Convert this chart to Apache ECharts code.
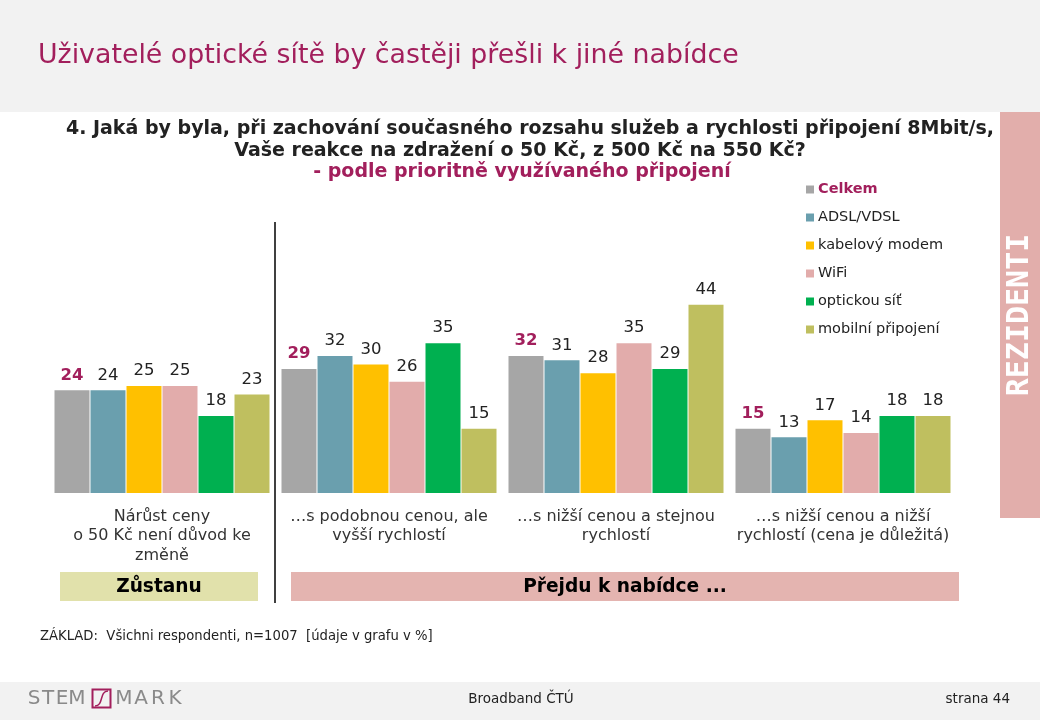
<!DOCTYPE html>
<html><head><meta charset="utf-8">
<script src="https://cdn.jsdelivr.net/npm/echarts@6/dist/echarts.min.js"></script>
<style>html,body{margin:0;padding:0;background:#fff}#c{width:1040px;height:720px}</style>
</head><body><div id="c"></div>
<script>
const categories = ['Nárůst ceny\no 50 Kč není důvod ke\nzměně', '…s podobnou cenou, ale\nvyšší rychlostí', '…s nižší cenou a stejnou\nrychlostí', '…s nižší cenou a nižší\nrychlostí (cena je důležitá)'];
const seriesNames = ['Celkem', 'ADSL/VDSL', 'kabelový modem', 'WiFi', 'optickou síť', 'mobilní připojení'];
const celkem = [24, 29, 32, 15];
const adsl = [24, 32, 31, 13];
const kabel = [25, 30, 28, 17];
const wifi = [25, 26, 35, 14];
const opticka = [18, 35, 29, 18];
const mobilni = [23, 15, 44, 18];
const colors = ['#a6a6a6', '#6a9fae', '#ffc000', '#e2acab', '#00b050', '#bfbf5f'];
const FONT = 'DejaVu Sans';
const CRIMSON = '#a21f5c';
const values = [celkem, adsl, kabel, wifi, opticka, mobilni];

const chart = echarts.init(document.getElementById('c'), null, {renderer: 'canvas'});
const series = values.map((v, i) => ({
  name: seriesNames[i], type: 'bar', data: v, barWidth: 35, barGap: '2.86%',
  itemStyle: {color: colors[i]},
  label: {show: true, position: 'top', distance: 6.5, fontFamily: FONT, fontSize: 16.5,
    color: i === 0 ? CRIMSON : '#222', fontWeight: i === 0 ? 'bold' : 'normal'}
}));

const logoLetters = [['S', 34], ['T', 48], ['E', 62], ['M', 77], ['M', 124], ['A', 141], ['R', 158], ['K', 175]];
const logo = logoLetters.map(([ch, x]) => ({type: 'text', x: x, y: 699,
  style: {text: ch, font: '20px "DejaVu Sans"', fill: '#8a8a8a', align: 'center', verticalAlign: 'middle'}}));

chart.setOption({
  animation: false,
  textStyle: {fontFamily: FONT},
  grid: {left: 48.5, top: 279, width: 908, height: 214, containLabel: false},
  xAxis: {type: 'category', data: categories, axisLine: {show: false}, axisTick: {show: false},
    axisLabel: {interval: 0, margin: 14, fontFamily: FONT, fontSize: 16, lineHeight: 19.5, color: '#333'}},
  yAxis: {type: 'value', min: 0, max: 50, show: false, splitLine: {show: false}},
  legend: {orient: 'vertical', left: 801, top: 177, itemWidth: 8, itemHeight: 8, itemGap: 13, icon: 'rect',
    textStyle: {fontFamily: FONT, fontSize: 14.5, color: '#222', padding: [0, 0, 0, -1]},
    data: seriesNames.map((n, i) => i === 0 ? {name: n, textStyle: {color: CRIMSON, fontWeight: 'bold'}} : {name: n})},
  series: series,
  graphic: [
    {type: 'rect', shape: {x: 0, y: 0, width: 1040, height: 112}, style: {fill: '#f2f2f2'}, z: -10},
    {type: 'text', x: 38, y: 56, style: {text: 'Uživatelé optické sítě by častěji přešli k jiné nabídce', font: '26.8px "DejaVu Sans"', fill: CRIMSON, verticalAlign: 'middle'}},
    {type: 'text', x: 530, y: 129, style: {text: '4. Jaká by byla, při zachování současného rozsahu služeb a rychlosti připojení 8Mbit/s,', font: 'bold 19px "DejaVu Sans"', fill: '#222', align: 'center', verticalAlign: 'middle'}},
    {type: 'text', x: 520, y: 151, style: {text: 'Vaše reakce na zdražení o 50 Kč, z 500 Kč na 550 Kč?', font: 'bold 19px "DejaVu Sans"', fill: '#222', align: 'center', verticalAlign: 'middle'}},
    {type: 'text', x: 522, y: 172, style: {text: '- podle prioritně využívaného připojení', font: 'bold 19px "DejaVu Sans"', fill: CRIMSON, align: 'center', verticalAlign: 'middle'}},
    {type: 'rect', shape: {x: 1000, y: 112, width: 40, height: 406}, style: {fill: '#e2aeab'}},
    {type: 'text', x: 1020, y: 315, rotation: Math.PI / 2, style: {text: 'REZIDENTI', font: 'bold 30px "DejaVu Sans Mono"', fill: '#fff', align: 'center', verticalAlign: 'middle'}},
    {type: 'line', shape: {x1: 275, y1: 222, x2: 275, y2: 603}, style: {stroke: '#000', lineWidth: 1.5}},
    {type: 'rect', shape: {x: 60, y: 572, width: 198, height: 29}, style: {fill: '#e1e1ab'}},
    {type: 'text', x: 159, y: 587, style: {text: 'Zůstanu', font: 'bold 18.6px "DejaVu Sans"', fill: '#000', align: 'center', verticalAlign: 'middle'}},
    {type: 'rect', shape: {x: 291, y: 572, width: 668, height: 29}, style: {fill: '#e4b4b0'}},
    {type: 'text', x: 625, y: 587, style: {text: 'Přejdu k nabídce ...', font: 'bold 18.6px "DejaVu Sans"', fill: '#000', align: 'center', verticalAlign: 'middle'}},
    {type: 'text', x: 40, y: 637, style: {text: 'ZÁKLAD:  Všichni respondenti, n=1007  [údaje v grafu v %]', font: '13.2px "DejaVu Sans"', fill: '#222', verticalAlign: 'middle'}},
    {type: 'rect', shape: {x: 0, y: 682, width: 1040, height: 38}, style: {fill: '#f2f2f2'}, z: -10},
    ...logo,
    {type: 'rect', shape: {x: 92.5, y: 689.5, width: 18, height: 18}, style: {fill: 'none', stroke: CRIMSON, lineWidth: 2}},
    {type: 'bezierCurve', shape: {x1: 95, y1: 706, cpx1: 104, cpy1: 706, cpx2: 99, cpy2: 691, x2: 108, y2: 691}, style: {stroke: CRIMSON, lineWidth: 1.5, fill: 'none'}},
    {type: 'text', x: 521, y: 699, style: {text: 'Broadband ČTÚ', font: '13.5px "DejaVu Sans"', fill: '#222', align: 'center', verticalAlign: 'middle'}},
    {type: 'text', x: 1010, y: 699, style: {text: 'strana 44', font: '13.5px "DejaVu Sans"', fill: '#222', align: 'right', verticalAlign: 'middle'}}
  ]
});
</script></body></html>
